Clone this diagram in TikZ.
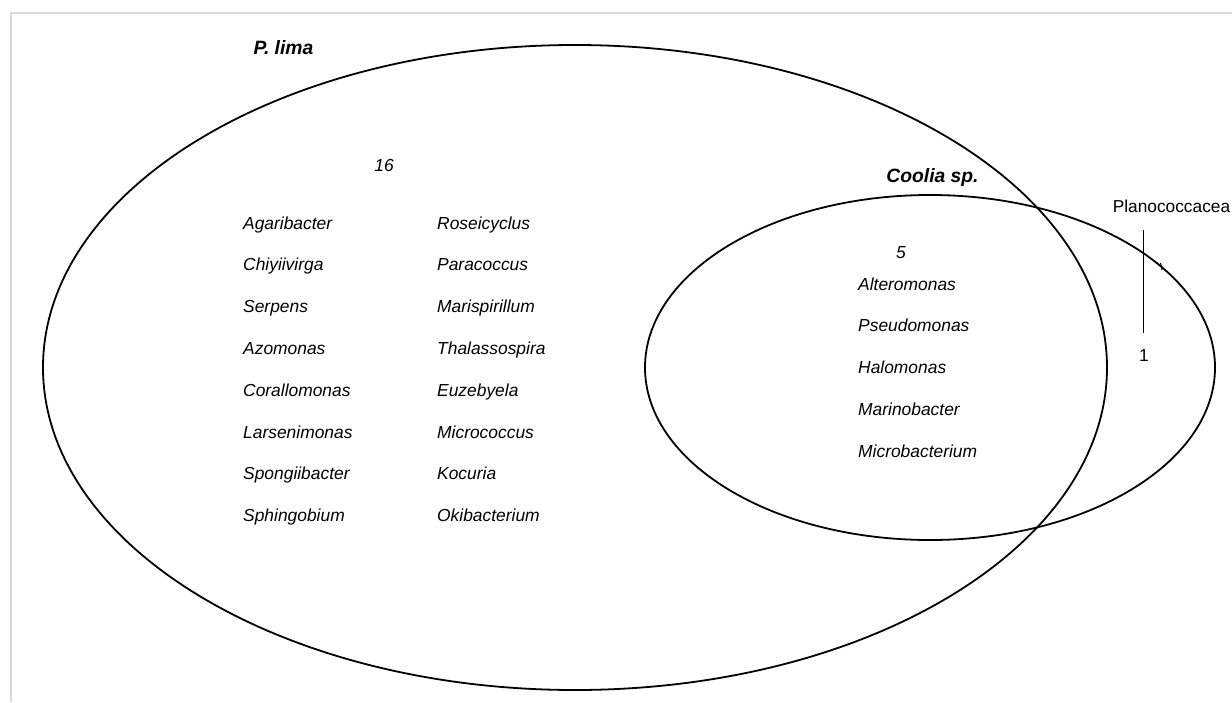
\documentclass[tikz,border=0pt]{standalone}
\usepackage{fontspec}
\setmainfont{Liberation Sans}
\tikzset{
  venn/.style={line width=1.8pt},
  genus/.style={anchor=base west,inner sep=0pt,font=\fontsize{17.4}{20}\selectfont\itshape},
  setname/.style={anchor=base,inner sep=0pt,font=\fontsize{19.3}{22}\selectfont\bfseries\itshape},
  tally/.style={anchor=base,inner sep=0pt,font=\fontsize{17.4}{20}\selectfont\itshape},
}
\begin{document}
\begin{tikzpicture}[x=1pt,y=-1pt]
\useasboundingbox (0,0) rectangle (1232,702);
\draw[gray!30,line width=1.5pt] (11,702) -- (11,13) -- (1232,13);
% the two sets
\draw[venn] (575,367.5) ellipse [x radius=532pt, y radius=322.5pt];
\draw[venn] (930,367.5) ellipse [x radius=285pt, y radius=172.5pt];
\node[setname] (plima) at (283.5,54) {P. lima};
\node[setname] (coolia) at (932.5,182) {Coolia sp.};
\node[tally] (nlima) at (384,171) {16};
\node[tally] (ncoolia) at (901,258) {5};
% genera only in P. lima
\foreach \g [count=\i] in {Agaribacter,Chiyiivirga,Serpens,Azomonas,Corallomonas,Larsenimonas,Spongiibacter,Sphingobium}
  \node[genus] (a\i) at (243,{229+41.8*(\i-1)}) {\g};
\foreach \g [count=\i] in {Roseicyclus,Paracoccus,Marispirillum,Thalassospira,Euzebyela,Micrococcus,Kocuria,Okibacterium}
  \node[genus] (b\i) at (437,{229+41.8*(\i-1)}) {\g};
% genera shared
\foreach \g [count=\i] in {Alteromonas,Pseudomonas,Halomonas,Marinobacter,Microbacterium}
  \node[genus] (c\i) at (858,{290+41.75*(\i-1)}) {\g};
% Planococcacea
\node[anchor=base,inner sep=0pt,font=\fontsize{17.3}{20}\selectfont] (plano) at (1171.5,212) {Planococcacea};
\node[anchor=base,inner sep=0pt,font=\fontsize{17.3}{20}\selectfont] (nplano) at (1144,361) {1};
\coordinate (ltop) at (1143,230);
\coordinate (lbot) at (1143,333);
\draw[line width=1pt] (ltop) -- (lbot);
\draw[line width=1pt] (1160.5,263) -- (1162,270);
\end{tikzpicture}
\end{document}
